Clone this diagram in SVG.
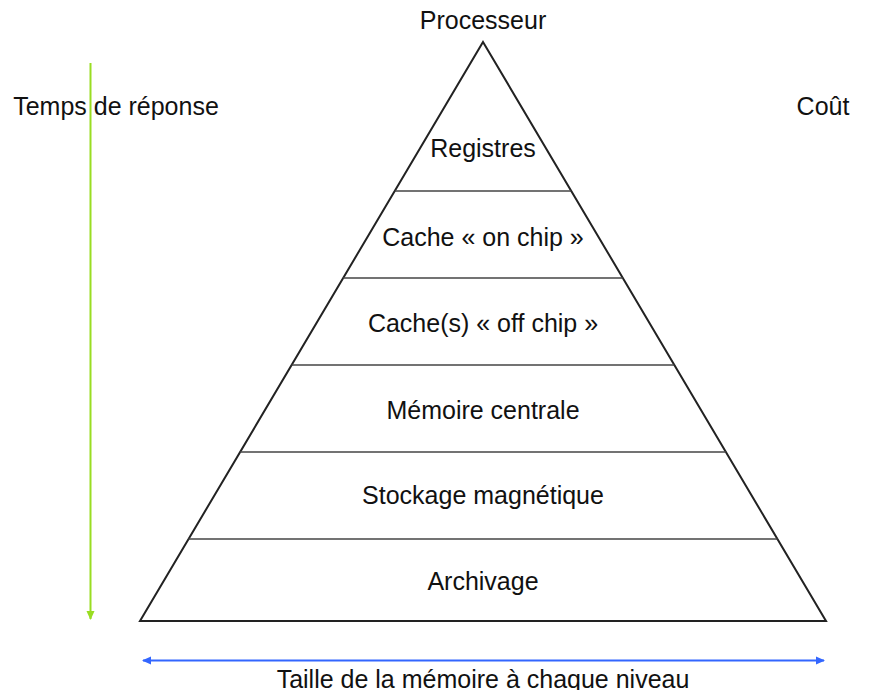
<svg xmlns="http://www.w3.org/2000/svg" width="869" height="690" viewBox="0 0 869 690">
<style>
text{font-family:"Liberation Sans",Arial,sans-serif;font-size:25px;fill:#111;text-anchor:middle}
.edge{stroke:#222;stroke-width:2;fill:none}
.div{stroke:#444;stroke-width:1.3}
</style>
<defs>
<marker id="ag" markerWidth="10" markerHeight="10" refX="8" refY="5" orient="auto" markerUnits="userSpaceOnUse"><path d="M0,1 L9,5 L0,9 Z" fill="#99dd22"/></marker>
<marker id="ab" markerWidth="10" markerHeight="10" refX="8" refY="5" orient="auto-start-reverse" markerUnits="userSpaceOnUse"><path d="M0,1 L9,5 L0,9 Z" fill="#3366ff"/></marker>
</defs>
<rect width="869" height="690" fill="#fff"/>
<g id="connectors">
<line x1="90.5" y1="63" x2="90.5" y2="619" stroke="#99dd22" stroke-width="2" marker-end="url(#ag)"/>
<line x1="143" y1="660.5" x2="824" y2="660.5" stroke="#3366ff" stroke-width="2" marker-start="url(#ab)" marker-end="url(#ab)"/>
</g>
<g id="pyramid">
<path class="edge" d="M483,42 L826,621 L140,621 Z"/>
<line class="div" x1="394.7" y1="191" x2="571.3" y2="191"/>
<line class="div" x1="343.2" y1="278" x2="622.8" y2="278"/>
<line class="div" x1="291.6" y1="365" x2="674.4" y2="365"/>
<line class="div" x1="240.1" y1="452" x2="725.9" y2="452"/>
<line class="div" x1="188.5" y1="539" x2="777.5" y2="539"/>
</g>
<g id="n-processeur"><text x="483" y="29">Processeur</text></g>
<g id="n-registres"><text x="483" y="157">Registres</text></g>
<g id="n-cache-on"><text x="483" y="246">Cache « on chip »</text></g>
<g id="n-cache-off"><text x="483" y="332">Cache(s) « off chip »</text></g>
<g id="n-memoire"><text x="483" y="419">Mémoire centrale</text></g>
<g id="n-stockage"><text x="483" y="504">Stockage magnétique</text></g>
<g id="n-archivage"><text x="483" y="590">Archivage</text></g>
<g id="n-temps"><text x="116" y="115">Temps de réponse</text></g>
<g id="n-cout"><text x="823" y="115">Coût</text></g>
<g id="n-taille"><text x="483" y="688">Taille de la mémoire à chaque niveau</text></g>
</svg>
